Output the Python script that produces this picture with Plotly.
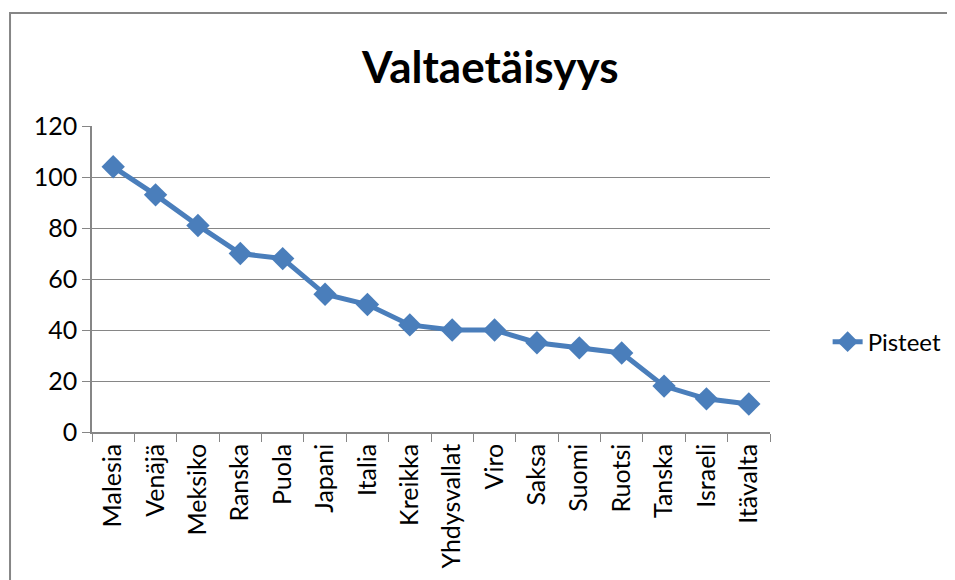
import plotly.graph_objects as go

# data
maat = ["Malesia", "Venäjä", "Meksiko", "Ranska", "Puola", "Japani", "Italia", "Kreikka",
        "Yhdysvallat", "Viro", "Saksa", "Suomi", "Ruotsi", "Tanska", "Israeli", "Itävalta"]
pisteet = [104, 93, 81, 70, 68, 54, 50, 42, 40, 40, 35, 33, 31, 18, 13, 11]

sininen = "#4A7EBB"
harmaa = "#868686"
fontti = "Lato, 'Open Sans', sans-serif"

fig = go.Figure()
fig.add_trace(go.Scatter(
    x=maat, y=pisteet, name="Pisteet", mode="lines+markers",
    line=dict(color=sininen, width=5),
    marker=dict(symbol="diamond", size=18, color=sininen),
))

# outer chart border (right edge runs off the page)
fig.add_shape(type="rect", xref="paper", yref="paper",
              x0=-0.1209, x1=1.35, y0=-0.55, y1=1.369,
              line=dict(color=harmaa, width=2), layer="below")

# page body adds 8px, so left/top margins are trimmed by 8
fig.update_layout(
    width=955, height=580,
    margin=dict(l=84, r=193, t=118, b=156),
    paper_bgcolor="white", plot_bgcolor="white",
    font=dict(family=fontti, size=25, color="black"),
    title=dict(text="<b>Valtaetäisyys</b>", x=0.505, xanchor="center",
               y=0.897, yanchor="middle", font=dict(size=44, family=fontti)),
    showlegend=True,
    legend=dict(x=1.085, y=0.294, xanchor="left", yanchor="middle",
                font=dict(size=24), bgcolor="rgba(0,0,0,0)"),
    xaxis=dict(type="category", range=[-0.5, 15.5], tickson="boundaries",
               ticks="outside", ticklen=8, tickcolor=harmaa, tickangle=-90,
               showline=True, linecolor=harmaa, linewidth=1.5,
               showgrid=False, tickfont=dict(size=25)),
    yaxis=dict(range=[0, 120], dtick=20, ticks="outside", ticklen=8,
               tickcolor=harmaa, showline=True, linecolor=harmaa, linewidth=1.5,
               showgrid=True, gridcolor=harmaa, gridwidth=1.2,
               zeroline=False, tickfont=dict(size=25)),
)

fig.write_html("out.html")
